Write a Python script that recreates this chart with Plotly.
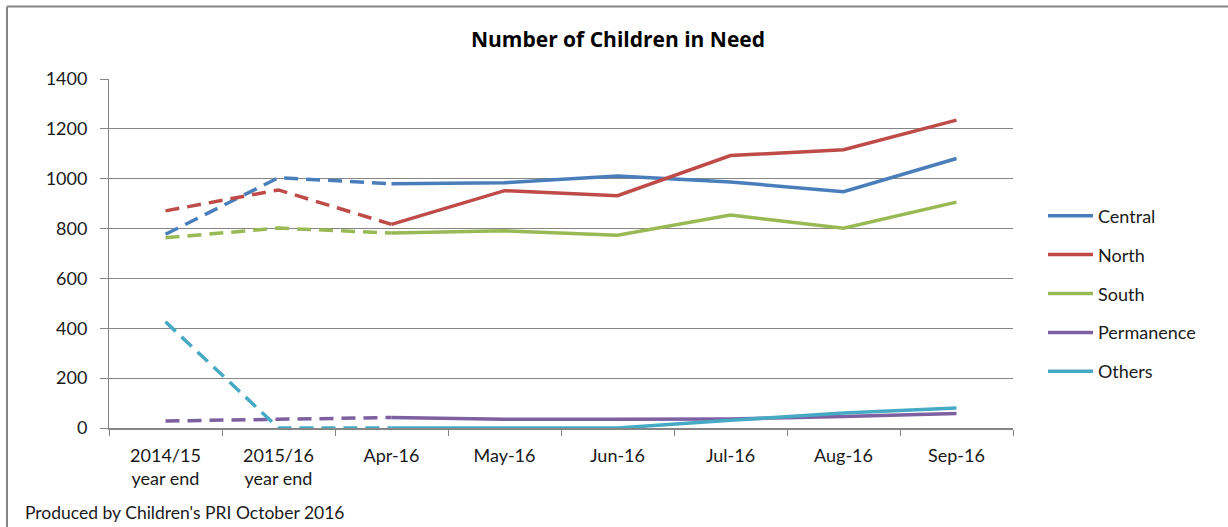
import plotly.graph_objects as go

categories = ["2014/15<br>year end", "2015/16<br>year end", "Apr-16", "May-16",
              "Jun-16", "Jul-16", "Aug-16", "Sep-16"]
series_names = ["Central", "North", "South", "Permanence", "Others"]
central = [777, 1004, 980, 984, 1011, 987, 948, 1081]
north = [871, 955, 817, 952, 932, 1093, 1116, 1235]
south = [763, 802, 782, 791, 773, 854, 801, 906]
permanence = [28, 36, 42, 35, 35, 36, 46, 58]
others = [426, 0, 0, 0, 0, 31, 60, 80]
y_ticks = [0, 200, 400, 600, 800, 1000, 1200, 1400]

colors = ["#4A7EBB", "#BE4B48", "#98B954", "#7D60A0", "#46AAC5"]
values = [central, north, south, permanence, others]

FONT = "Lato"
TXT = "#1a1a1a"
GRID = "#868686"

fig = go.Figure()
n_dash = 3  # first three points joined with dashed line
for name, vals, col in zip(series_names, values, colors):
    fig.add_trace(go.Scatter(
        x=categories[:n_dash], y=vals[:n_dash], mode="lines", name=name,
        legendgroup=name, showlegend=False, hoverinfo="skip",
        line=dict(color=col, width=3.5, dash="14px,8px"),
    ))
    fig.add_trace(go.Scatter(
        x=categories[n_dash - 1:], y=vals[n_dash - 1:], mode="lines", name=name,
        legendgroup=name, showlegend=True,
        line=dict(color=col, width=3.5),
    ))

L, R, T, B = 109, 215, 79, 99
W, H = 1228, 527
pw, ph = W - L - R, H - T - B

def px_x(p):
    return (p - L) / pw

def px_y(p):
    return (H - B - p) / ph

fig.update_layout(
    width=W, height=H,
    margin=dict(l=L, r=R, t=T, b=B),
    paper_bgcolor="white", plot_bgcolor="white",
    font=dict(family=FONT, color=TXT, size=18),
    title=dict(text="<b>Number of Children in Need</b>", x=618 / W, xanchor="center",
               y=1 - 40 / H, yanchor="middle",
               font=dict(family="Open Sans", size=21, color="#000")),
    showlegend=True,
    legend=dict(x=px_x(1043), xanchor="left", y=px_y(197.5), yanchor="top",
                font=dict(family=FONT, size=18, color=TXT), tracegroupgap=12.5,
                itemwidth=45, bgcolor="rgba(0,0,0,0)"),
    xaxis=dict(type="category", categoryorder="array", categoryarray=categories,
               range=[-0.5, 7.5], showgrid=False, showline=True, linecolor=GRID,
               linewidth=2, ticks="outside", tickson="boundaries", ticklen=6,
               tickcolor=GRID, tickwidth=1, ticklabelstandoff=10,
               tickfont=dict(family=FONT, size=18, color=TXT), zeroline=False,
               fixedrange=True),
    yaxis=dict(range=[0, 1400], tickvals=y_ticks, showgrid=True, gridcolor=GRID,
               gridwidth=1, showline=True, linecolor=GRID, linewidth=1,
               ticks="outside", ticklen=8, tickcolor=GRID, ticklabelstandoff=9,
               tickfont=dict(family=FONT, size=18, color=TXT), zeroline=False,
               fixedrange=True),
    shapes=[
        dict(type="line", xref="paper", yref="paper", x0=px_x(7), x1=px_x(W + 5),
             y0=px_y(6.5), y1=px_y(6.5), line=dict(color=GRID, width=2)),
        dict(type="line", xref="paper", yref="paper", x0=px_x(7), x1=px_x(7),
             y0=px_y(6.5), y1=px_y(H + 5), line=dict(color=GRID, width=2)),
    ],
    annotations=[
        dict(text="Produced by Children's PRI October 2016", xref="paper", yref="paper",
             x=px_x(23), y=px_y(512), xanchor="left", yanchor="middle", showarrow=False,
             font=dict(family=FONT, size=17.5, color=TXT)),
    ],
)

fig.write_html("out.html")
